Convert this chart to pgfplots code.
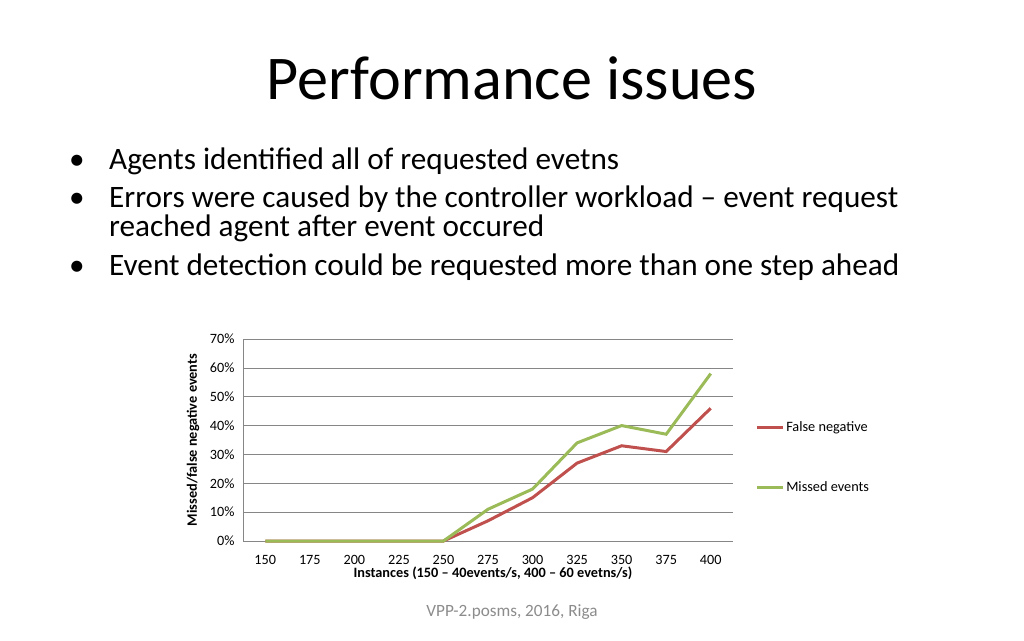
\documentclass[border=0pt]{standalone}
\usepackage{pgfplots}
\pgfplotsset{compat=1.18}
\usepackage{fontspec}
\setmainfont{Carlito}
\definecolor{fnred}{HTML}{C0504D}
\definecolor{megreen}{HTML}{9BBB59}
\definecolor{gridgray}{HTML}{868686}
\definecolor{footgray}{HTML}{8C8C8C}
\begin{document}
\begin{tikzpicture}[x=1pt,y=1pt]
\fill[white] (0,0) rectangle (1024,640);
\coordinate (AX) at (243,99);
% title
\node[anchor=base, font=\fontsize{62.2}{64}\selectfont] at (512,640-100) {Performance issues};
% bullets
\begin{scope}[every node/.style={anchor=base west, inner sep=0pt, font=\fontsize{31.2}{33}\selectfont}]
\node at (69,640-170) {\textbullet};
\node at (109,640-170) {Agents identified all of requested evetns};
\node at (69,640-208) {\textbullet};
\node at (109,640-208) {Errors were caused by the controller workload -- event request};
\node at (109,640-237) {reached agent after event occured};
\node at (69,640-276) {\textbullet};
\node at (109,640-276) {Event detection could be requested more than one step ahead};
\end{scope}
% footer
\node[anchor=base, text=footgray, font=\fontsize{17.2}{19}\selectfont] at (512,640-616) {VPP-2.posms, 2016, Riga};
\begin{axis}[
  at={(AX)}, anchor=south west,
  scale only axis, width=490pt, height=202pt,
  xmin=137.5, xmax=412.5, ymin=0, ymax=70,
  axis lines*=left,
  axis line style={gridgray, line width=0.6pt},
  every outer x axis line/.append style={-},
  every outer y axis line/.append style={-},
  xtick={150,175,...,400},
  xticklabels={150,175,200,225,250,275,300,325,350,375,400},
  major x tick style={draw=none},
  extra x ticks={137.5,162.5,187.5,212.5,237.5,262.5,287.5,312.5,337.5,362.5,387.5,412.5},
  extra x tick labels={},
  extra x tick style={major tick length=5pt, tick style={gridgray, line width=0.6pt}, tick align=outside, xticklabel=\empty},
  ytick={0,10,...,70},
  yticklabel={\pgfmathprintnumber{\tick}\%},
  ytick style={draw=none},
  ymajorgrids, grid style={gridgray, line width=0.6pt},
  tick label style={font=\fontsize{14.2}{16}\selectfont},
  yticklabel style={xshift=-5pt},
  xticklabel style={yshift=-11pt},
  /pgf/number format/assume math mode=true,
  xlabel={\textbf{Instances (150 -- 40events/s, 400 -- 60 evetns/s)}},
  ylabel={\textbf{Missed/false negative events}},
  label style={font=\fontsize{14.3}{16}\selectfont},
  xlabel style={at={(axis description cs:0.51,0)}, anchor=north, yshift=-22pt},
  ylabel style={at={(axis description cs:-0.102,0.5)}, anchor=center},
  legend style={draw=none, fill=none, at={(rel axis cs:1.045,0.60)}, anchor=north west,
    font=\fontsize{14.3}{16}\selectfont, row sep=44pt, inner sep=0pt},
  legend cell align=left,
  legend image code/.code={\draw[#1, line width=3pt] (0pt,0pt) -- (26pt,0pt);},
  clip=false,
]
\addplot[fnred, line width=3pt] coordinates {(150,0)(175,0)(200,0)(225,0)(250,0)(275,7)(300,15)(325,27)(350,33)(375,31)(400,46)};
\addlegendentry{False negative}
\addplot[megreen, line width=3pt] coordinates {(150,0)(175,0)(200,0)(225,0)(250,0)(275,11)(300,18)(325,34)(350,40)(375,37)(400,58)};
\addlegendentry{Missed events}
\end{axis}
\end{tikzpicture}
\end{document}
